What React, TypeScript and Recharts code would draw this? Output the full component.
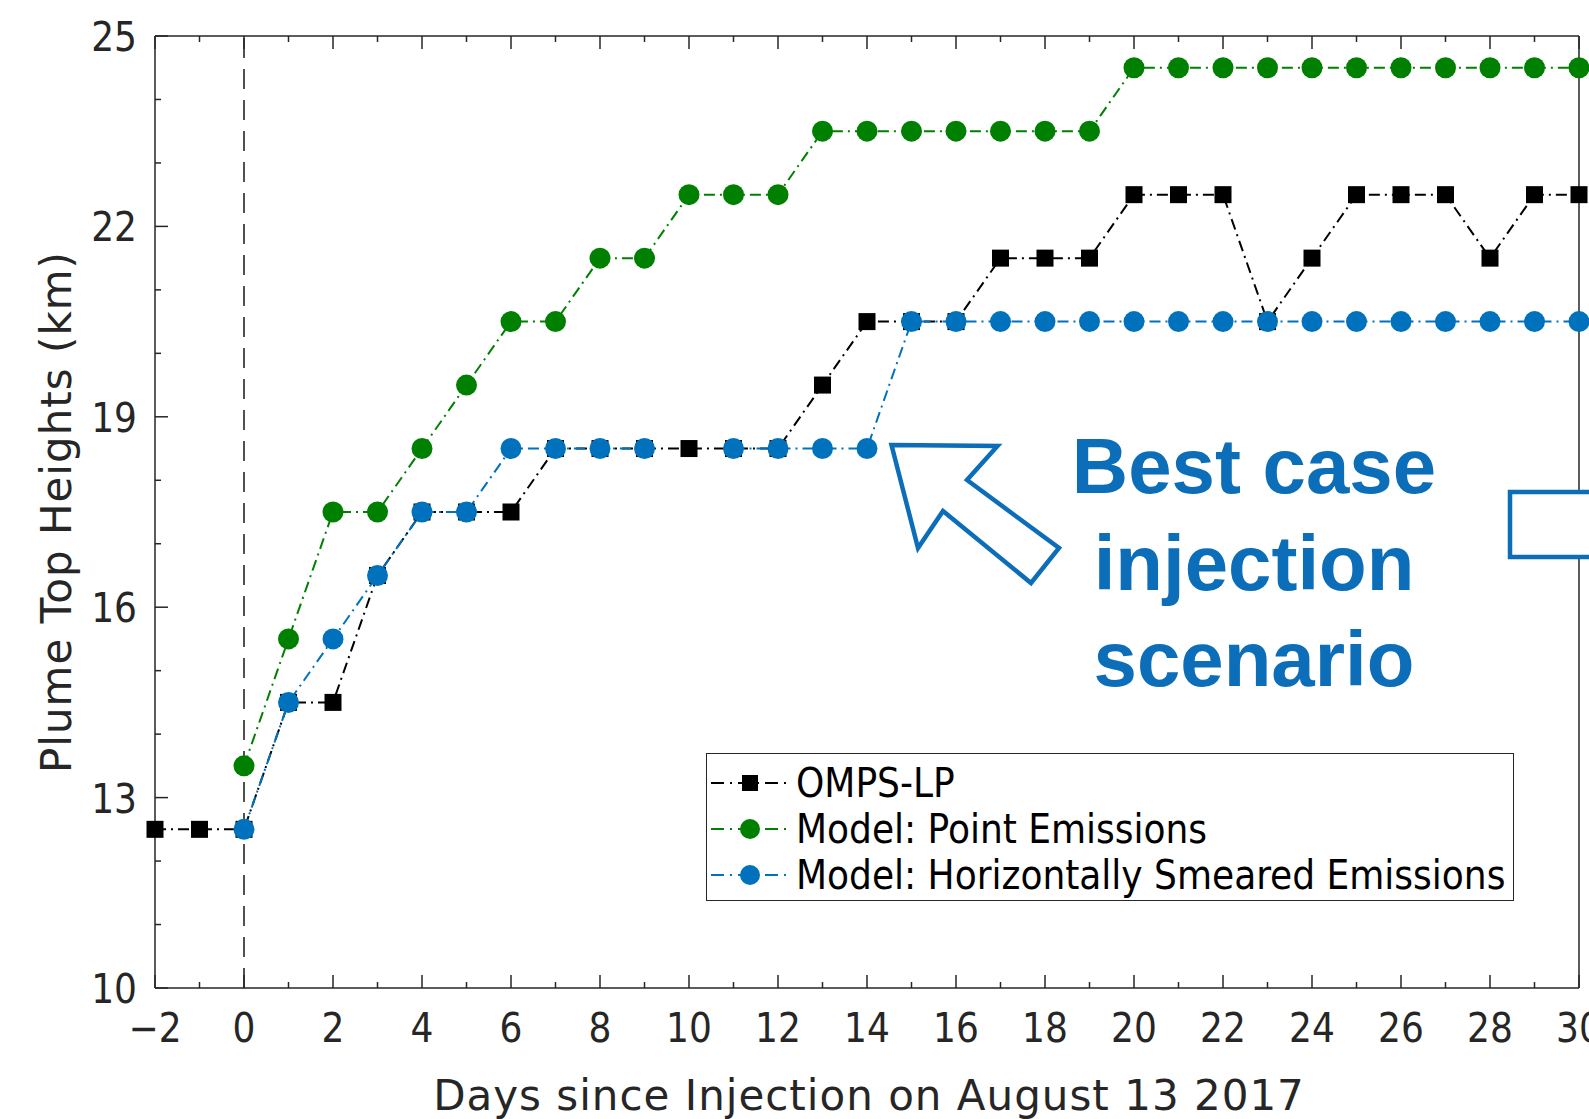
import { LineChart, Line, XAxis, YAxis, ReferenceLine, Legend } from "recharts"

// days since injection (Aug 13 2017)
const days = [-2, -1, 0, 1, 2, 3, 4, 5, 6, 7, 8, 9, 10, 11, 12, 13, 14, 15, 16, 17, 18, 19, 20, 21, 22, 23, 24, 25, 26, 27, 28, 29, 30]

// plume top heights (km)
const ompsLp = [12.5, 12.5, 12.5, 14.5, 14.5, 16.5, 17.5, 17.5, 17.5, 18.5, 18.5, 18.5, 18.5, 18.5, 18.5, 19.5, 20.5, 20.5, 20.5, 21.5, 21.5, 21.5, 22.5, 22.5, 22.5, 20.5, 21.5, 22.5, 22.5, 22.5, 21.5, 22.5, 22.5]
const pointEmissions = [null, null, 13.5, 15.5, 17.5, 17.5, 18.5, 19.5, 20.5, 20.5, 21.5, 21.5, 22.5, 22.5, 22.5, 23.5, 23.5, 23.5, 23.5, 23.5, 23.5, 23.5, 24.5, 24.5, 24.5, 24.5, 24.5, 24.5, 24.5, 24.5, 24.5, 24.5, 24.5]
const smearedEmissions = [null, null, 12.5, 14.5, 15.5, 16.5, 17.5, 17.5, 18.5, 18.5, 18.5, 18.5, null, 18.5, 18.5, 18.5, 18.5, 20.5, 20.5, 20.5, 20.5, 20.5, 20.5, 20.5, 20.5, 20.5, 20.5, 20.5, 20.5, 20.5, 20.5, 20.5, 20.5]

const xTicks = days
const xLabelEvery = 2
const yTicks = [10, 11, 12, 13, 14, 15, 16, 17, 18, 19, 20, 21, 22, 23, 24, 25]
const yLabels = [10, 13, 16, 19, 22, 25]

const series = [
    { key: "omps", name: "OMPS-LP", color: "#000000", marker: "square" },
    { key: "point", name: "Model: Point Emissions", color: "#008000", marker: "circle" },
    { key: "smeared", name: "Model: Horizontally Smeared Emissions", color: "#0072BD", marker: "circle" },
]

const data = days.map((d, i) => ({
    day: d,
    omps: ompsLp[i],
    point: pointEmissions[i],
    smeared: smearedEmissions[i],
}))

const FONT = "'DejaVu Sans Condensed', 'DejaVu Sans', sans-serif"
const TITLE_FONT = "'DejaVu Sans', sans-serif"
const AXIS = "#262626"
const DASHDOT = "11 5 2 5"

const fmt = (v: number) => (v < 0 ? `\u2212${Math.abs(v)}` : `${v}`)

function makeDot(color: string, marker: string) {
    return (props: any) => {
        const { cx, cy, index } = props
        if (cx == null || cy == null || Number.isNaN(cy)) return <g key={index} />
        if (marker === "square")
            return <rect key={index} x={cx - 8.5} y={cy - 8.5} width={17} height={17} fill={color} />
        return <circle key={index} cx={cx} cy={cy} r={10.5} fill={color} />
    }
}

function BottomTick({ x, y, payload }: any) {
    const major = payload.value % xLabelEvery === 0
    return (
        <g>
            <line x1={x} x2={x} y1={y} y2={y - (major ? 13 : 6)} stroke={AXIS} strokeWidth={1.5} />
            {major && (
                <text x={x} y={y + 40} textAnchor="middle" dominantBaseline="central" fill={AXIS} fontSize={40} fontFamily={FONT}>
                    {fmt(payload.value)}
                </text>
            )}
        </g>
    )
}

function TopTick({ x, y, payload }: any) {
    const major = payload.value % xLabelEvery === 0
    return <line x1={x} x2={x} y1={y} y2={y + (major ? 13 : 6)} stroke={AXIS} strokeWidth={1.5} />
}

function LeftTick({ x, y, payload }: any) {
    const major = yLabels.includes(payload.value)
    return (
        <g>
            <line x1={x} x2={x + (major ? 13 : 6)} y1={y} y2={y} stroke={AXIS} strokeWidth={1.5} />
            {major && (
                <text x={x - 18} y={y + 1} textAnchor="end" dominantBaseline="central" fill={AXIS} fontSize={40} fontFamily={FONT}>
                    {payload.value}
                </text>
            )}
        </g>
    )
}

function RightTick({ x, y, payload }: any) {
    const major = yLabels.includes(payload.value)
    return <line x1={x} x2={x - (major ? 13 : 6)} y1={y} y2={y} stroke={AXIS} strokeWidth={1.5} />
}

function LegendBox({ payload }: any) {
    // keep the plotting order (recharts may hand the entries over reversed)
    const entries = series.map((s) => (payload || []).find((p: any) => p.value === s.name) || { value: s.name })
    return (
        <div style={{ border: `1.5px solid ${AXIS}`, background: "#fff", width: 808, height: 148, boxSizing: "border-box", paddingTop: 6, fontFamily: FONT, fontSize: 40, color: "#000" }}>
            {entries.map((entry: any, i: number) => {
                const s = series[i]
                return (
                    <div key={i} style={{ display: "flex", alignItems: "center", height: 46, whiteSpace: "nowrap" }}>
                        <svg width={89} height={46} style={{ flex: "none" }}>
                            <line x1={4} x2={84} y1={23} y2={23} stroke={s.color} strokeWidth={2} strokeDasharray="13 6 2 6" />
                            {s.marker === "square"
                                ? <rect x={35} y={15} width={16} height={16} fill={s.color} />
                                : <circle cx={43} cy={23} r={10} fill={s.color} />}
                        </svg>
                        <span style={{ lineHeight: "46px" }}>{entry.value}</span>
                    </div>
                )
            })}
        </div>
    )
}

export default function App() {
    const blue = "#0C6EB9"
    return (
        <div style={{ position: "absolute", left: 0, top: 0, width: 1589, height: 1119, background: "#fff" }}>
            <LineChart width={1589} height={1119} data={data} margin={{ top: 35, right: 9, left: 95, bottom: 71 }}>
                <XAxis
                    xAxisId="bottom"
                    dataKey="day"
                    type="number"
                    domain={[-2, 30]}
                    ticks={xTicks}
                    interval={0}
                    height={60}
                    tickSize={0}
                    tickMargin={0}
                    tickLine={false}
                    tick={<BottomTick />}
                    axisLine={{ stroke: AXIS, strokeWidth: 1.5 }}
                    label={(p: any) => {
                        const vb = p.viewBox
                        return (
                            <text x={vb.x + vb.width / 2 + 2} y={vb.y + 122} textAnchor="middle" fill={AXIS} fontSize={42} letterSpacing={1} fontFamily={TITLE_FONT}>
                                Days since Injection on August 13 2017
                            </text>
                        )
                    }}
                />
                <XAxis
                    xAxisId="top"
                    orientation="top"
                    dataKey="day"
                    type="number"
                    domain={[-2, 30]}
                    ticks={xTicks}
                    interval={0}
                    height={1}
                    tickSize={0}
                    tickMargin={0}
                    tickLine={false}
                    tick={<TopTick />}
                    axisLine={{ stroke: AXIS, strokeWidth: 1.5 }}
                />
                <YAxis
                    yAxisId="left"
                    type="number"
                    domain={[10, 25]}
                    ticks={yTicks}
                    interval={0}
                    width={60}
                    tickSize={0}
                    tickMargin={0}
                    tickLine={false}
                    tick={<LeftTick />}
                    axisLine={{ stroke: AXIS, strokeWidth: 1.5 }}
                    label={(p: any) => {
                        const vb = p.viewBox
                        const cx = vb.x - 39
                        const cy = vb.y + vb.height / 2
                        return (
                            <text x={cx} y={cy} transform={`rotate(-90 ${cx} ${cy})`} textAnchor="middle" dominantBaseline="central" fill={AXIS} fontSize={42} letterSpacing={1} fontFamily={TITLE_FONT}>
                                Plume Top Heights (km)
                            </text>
                        )
                    }}
                />
                <YAxis
                    yAxisId="right"
                    orientation="right"
                    type="number"
                    domain={[10, 25]}
                    ticks={yTicks}
                    interval={0}
                    width={1}
                    tickSize={0}
                    tickMargin={0}
                    tickLine={false}
                    tick={<RightTick />}
                    axisLine={{ stroke: AXIS, strokeWidth: 1.5 }}
                />
                <ReferenceLine x={0} xAxisId="bottom" yAxisId="left" stroke={AXIS} strokeWidth={1.6} strokeDasharray="20 11" />
                {series.map((s) => (
                    <Line
                        key={s.key}
                        xAxisId="bottom"
                        yAxisId="left"
                        type="linear"
                        dataKey={s.key}
                        name={s.name}
                        stroke={s.color}
                        strokeWidth={2}
                        strokeDasharray={DASHDOT}
                        dot={makeDot(s.color, s.marker)}
                        activeDot={false}
                        connectNulls={false}
                        isAnimationActive={false}
                    />
                ))}
                <Legend
                    layout="horizontal"
                    verticalAlign="middle"
                    align="center"
                    content={<LegendBox />}
                    wrapperStyle={{ left: 706, top: 753, width: 808, height: 148 }}
                />
            </LineChart>
            <svg width={1589} height={1119} style={{ position: "absolute", left: 0, top: 0, pointerEvents: "none" }}>
                <polygon
                    points="891.5,445 997.5,446 967,480 1059,548 1031,583 943,511 918,548"
                    fill="#fff"
                    stroke={blue}
                    strokeWidth={4.5}
                    strokeLinejoin="miter"
                />
                <rect x={1510} y={492} width={100} height={65} fill="#fff" stroke={blue} strokeWidth={4.5} />
                <g fill={blue} fontFamily="'Liberation Sans', Arial, sans-serif" fontWeight="bold" fontSize={78} textAnchor="middle">
                    <text x={1254} y={493}>Best case</text>
                    <text x={1254} y={590}>injection</text>
                    <text x={1254} y={686}>scenario</text>
                </g>
            </svg>
        </div>
    )
}
